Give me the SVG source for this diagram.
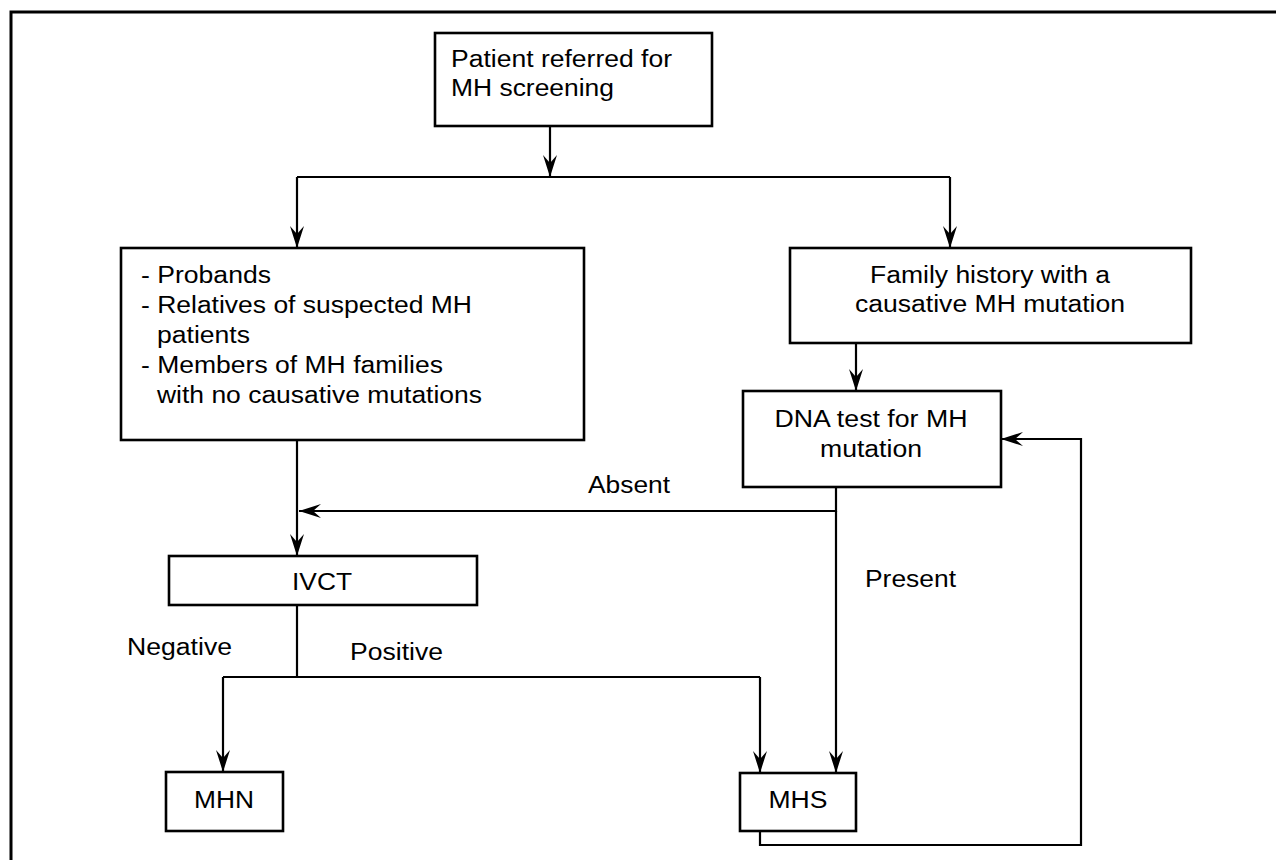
<svg xmlns="http://www.w3.org/2000/svg" width="1276" height="860" viewBox="0 0 1276 860">
<defs>
<marker id="arr" markerUnits="userSpaceOnUse" markerWidth="30" markerHeight="20" viewBox="-24 -10 26 20" refX="0" refY="0" orient="auto">
<path d="M0,0 L-22,-7 L-14,0 L-22,7 Z" fill="#000"/>
</marker>
</defs>
<style>
.box{fill:#fff;stroke:#000;stroke-width:2.6}
.ln{fill:none;stroke:#000;stroke-width:2.2}
.t{font-family:"Liberation Sans",Arial,sans-serif;font-size:23px;fill:#000}
.m{text-anchor:middle}
</style>
<rect x="0" y="0" width="1276" height="860" fill="#fff"/>
<rect x="11" y="12" width="1300" height="900" fill="none" stroke="#000" stroke-width="3"/>
<g id="connectors">
<path class="ln" d="M550,126 V177" marker-end="url(#arr)"/>
<path class="ln" d="M297,177 H950"/>
<path class="ln" d="M297,177 V248" marker-end="url(#arr)"/>
<path class="ln" d="M950,177 V248" marker-end="url(#arr)"/>
<path class="ln" d="M856,343 V391" marker-end="url(#arr)"/>
<path class="ln" d="M297,440 V556" marker-end="url(#arr)"/>
<path class="ln" d="M836,487 V511 H299" marker-end="url(#arr)"/>
<path class="ln" d="M836,511 V773" marker-end="url(#arr)"/>
<path class="ln" d="M297,605 V677"/>
<path class="ln" d="M223,677 H760"/>
<path class="ln" d="M223,677 V772" marker-end="url(#arr)"/>
<path class="ln" d="M760,677 V773" marker-end="url(#arr)"/>
<path class="ln" d="M760,831 V845 H1081 V439 H1001" marker-end="url(#arr)"/>
<text class="t" x="588" y="493" textLength="82" lengthAdjust="spacingAndGlyphs">Absent</text>
<text class="t" x="865" y="587" textLength="91" lengthAdjust="spacingAndGlyphs">Present</text>
<text class="t" x="127" y="655" textLength="105" lengthAdjust="spacingAndGlyphs">Negative</text>
<text class="t" x="350" y="660" textLength="93" lengthAdjust="spacingAndGlyphs">Positive</text>
</g>
<g id="start">
<rect class="box" x="435" y="33" width="277" height="93"/>
<text class="t" x="451" y="67" textLength="221" lengthAdjust="spacingAndGlyphs">Patient referred for</text>
<text class="t" x="451" y="96" textLength="163" lengthAdjust="spacingAndGlyphs">MH screening</text>
</g>
<g id="probands">
<rect class="box" x="121" y="248" width="463" height="192"/>
<text class="t" x="141" y="283" textLength="130" lengthAdjust="spacingAndGlyphs">- Probands</text>
<text class="t" x="141" y="313" textLength="331" lengthAdjust="spacingAndGlyphs">- Relatives of suspected MH</text>
<text class="t" x="157" y="343" textLength="93" lengthAdjust="spacingAndGlyphs">patients</text>
<text class="t" x="141" y="373" textLength="302" lengthAdjust="spacingAndGlyphs">- Members of MH families</text>
<text class="t" x="157" y="403" textLength="325" lengthAdjust="spacingAndGlyphs">with no causative mutations</text>
</g>
<g id="family">
<rect class="box" x="790" y="248" width="401" height="95"/>
<text class="t m" x="990" y="283" textLength="240" lengthAdjust="spacingAndGlyphs">Family history with a</text>
<text class="t m" x="990" y="312" textLength="270" lengthAdjust="spacingAndGlyphs">causative MH mutation</text>
</g>
<g id="dna">
<rect class="box" x="743" y="391" width="258" height="96"/>
<text class="t m" x="871" y="427" textLength="193" lengthAdjust="spacingAndGlyphs">DNA test for MH</text>
<text class="t m" x="871" y="457" textLength="102" lengthAdjust="spacingAndGlyphs">mutation</text>
</g>
<g id="ivct">
<rect class="box" x="169" y="556" width="308" height="49"/>
<text class="t m" x="322" y="590" textLength="60" lengthAdjust="spacingAndGlyphs">IVCT</text>
</g>
<g id="mhn">
<rect class="box" x="166" y="772" width="117" height="59"/>
<text class="t m" x="224" y="808" textLength="60" lengthAdjust="spacingAndGlyphs">MHN</text>
</g>
<g id="mhs">
<rect class="box" x="740" y="773" width="116" height="58"/>
<text class="t m" x="798" y="808" textLength="59" lengthAdjust="spacingAndGlyphs">MHS</text>
</g>
</svg>
